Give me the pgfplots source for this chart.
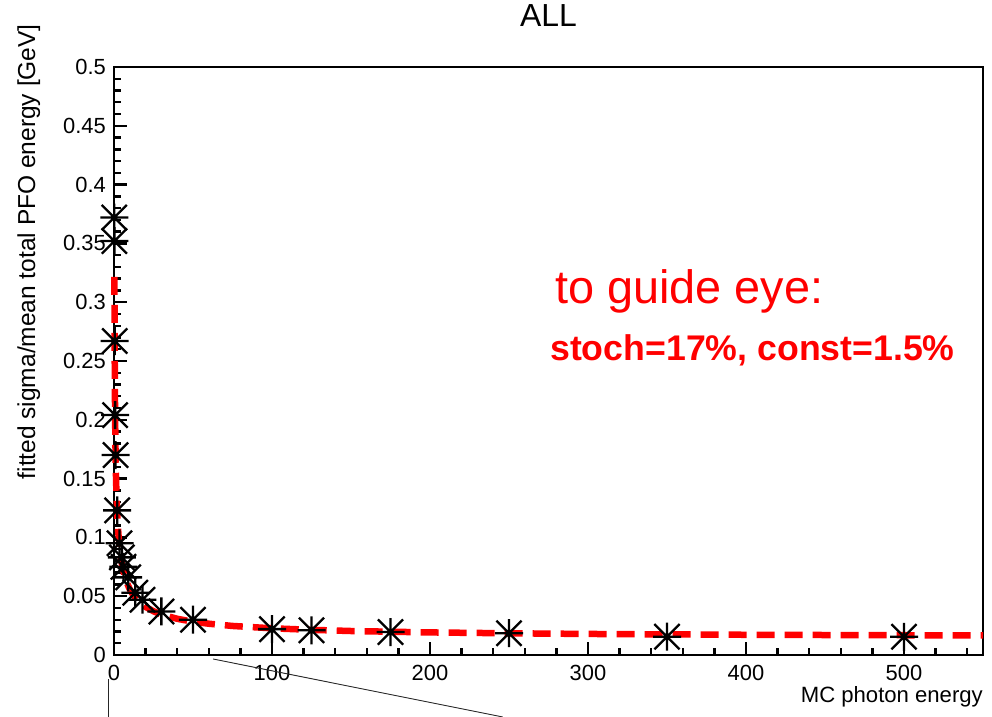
\documentclass[border=0pt]{standalone}
\usepackage{fontspec}
\setmainfont{Liberation Sans}
\usepackage{pgfplots}
\pgfplotsset{compat=1.18}

% ROOT style "*" marker: + and x together
\pgfdeclareplotmark{rootstar}{%
  \pgfpathmoveto{\pgfqpoint{-\pgfplotmarksize}{0pt}}%
  \pgfpathlineto{\pgfqpoint{\pgfplotmarksize}{0pt}}%
  \pgfpathmoveto{\pgfqpoint{0pt}{-\pgfplotmarksize}}%
  \pgfpathlineto{\pgfqpoint{0pt}{\pgfplotmarksize}}%
  \pgfpathmoveto{\pgfqpoint{-0.9\pgfplotmarksize}{-0.9\pgfplotmarksize}}%
  \pgfpathlineto{\pgfqpoint{0.9\pgfplotmarksize}{0.9\pgfplotmarksize}}%
  \pgfpathmoveto{\pgfqpoint{-0.9\pgfplotmarksize}{0.9\pgfplotmarksize}}%
  \pgfpathlineto{\pgfqpoint{0.9\pgfplotmarksize}{-0.9\pgfplotmarksize}}%
  \pgfusepathqstroke}

\pgfplotstableread{
E     res
0.2   0.372
0.25  0.352
0.45  0.267
0.7   0.204
1.0   0.170
2.0   0.123
3.5   0.095
5.0   0.083
6.0   0.075
9.0   0.066
13.5  0.053
18.0  0.047
30.0  0.037
50.0  0.030
100   0.022
125   0.021
175   0.0195
250   0.0185
350   0.0156
500   0.0155
}\points

% curve "to guide eye"
\pgfplotstableread{
E     res
0.28  0.3216
0.3   0.3107
0.35  0.2877
0.4   0.2692
0.5   0.2409
0.6   0.2200
0.75  0.1969
1     0.1707
1.25  0.1528
1.5   0.1396
2     0.1211
2.5   0.1086
3     0.0993
4     0.0863
5     0.0775
6     0.0710
7     0.0660
8     0.0619
10    0.0558
12    0.0513
15    0.0464
20    0.0409
25    0.0372
30    0.0345
40    0.0308
50    0.0283
60    0.0266
75    0.0247
100   0.0227
125   0.0214
150   0.0204
200   0.0192
250   0.01846
300   0.0179
350   0.01754
400   0.0172
450   0.0170
500   0.0168
550   0.01666
}\curve

\begin{document}
\begin{tikzpicture}
\begin{axis}[
    name=ax,
    scale only axis,
    width=869bp, height=588bp,
    xmin=0, xmax=550,
    ymin=0, ymax=0.5,
    clip=false,
    axis line style={line width=2.6bp},
    xtick={0,100,200,300,400,500},
    ytick={0,0.05,0.1,0.15,0.2,0.25,0.3,0.35,0.4,0.45,0.5},
    minor xtick={0,20,...,540},
    minor ytick={0,0.01,...,0.5},
    xtick pos=bottom, ytick pos=left,
    tick align=inside,
    major tick length=13bp, minor tick length=7bp,
    every tick/.style={line width=2.4bp, black},
    scaled y ticks=false,
    /pgf/number format/assume math mode=true,
    yticklabel style={/pgf/number format/fixed, /pgf/number format/precision=2,
        inner sep=0pt, xshift=-8bp},
    xticklabel style={inner sep=0pt, yshift=-10bp},
    every tick label/.append style={font=\fontsize{22}{24}\selectfont},
    title={ALL},
    title style={at={(0.5,1.0595)}, anchor=base, inner sep=0pt,
        font=\fontsize{32}{36}\selectfont},
    xlabel={MC photon energy},
    xlabel style={at={(rel axis cs:1,-0.0816)}, anchor=base east, inner sep=0pt,
        font=\fontsize{22.2}{25}\selectfont},
    ylabel={fitted sigma/mean total PFO energy [GeV]},
    ylabel style={at={(rel axis cs:-0.0909,1.073)}, anchor=base east, inner sep=0pt,
        font=\fontsize{24.6}{27}\selectfont},
]
\addplot[red, line width=6.5bp, dash pattern=on 18bp off 10bp, no marks]
    table[x=E, y=res] {\curve};
\addplot[only marks, mark=rootstar, mark size=14bp,
    mark options={line width=2.3bp, black}]
    table[x=E, y=res] {\points};

\node[anchor=base west, inner sep=0pt, red, font=\fontsize{47}{50}\selectfont]
    at (axis cs:279,0.2993) {to guide eye:};
\node[anchor=base west, inner sep=0pt, red, font=\fontsize{35.8}{38}\selectfont\bfseries]
    at (axis cs:276,0.2500) {stoch=17\%, const=1.5\%};

\draw[line width=0.9bp, black!85] (axis cs:-3.2,-0.0204) -- (axis cs:-3.2,-0.07);
\draw[line width=0.9bp, black!85] (axis cs:62.7,-0.0034) -- (axis cs:246,-0.0527);
\end{axis}
\pgfresetboundingbox
\useasboundingbox ([shift={(-114bp,-62bp)}]ax.south west)
    rectangle ([shift={(9bp,67bp)}]ax.north east);
\end{tikzpicture}
\end{document}
